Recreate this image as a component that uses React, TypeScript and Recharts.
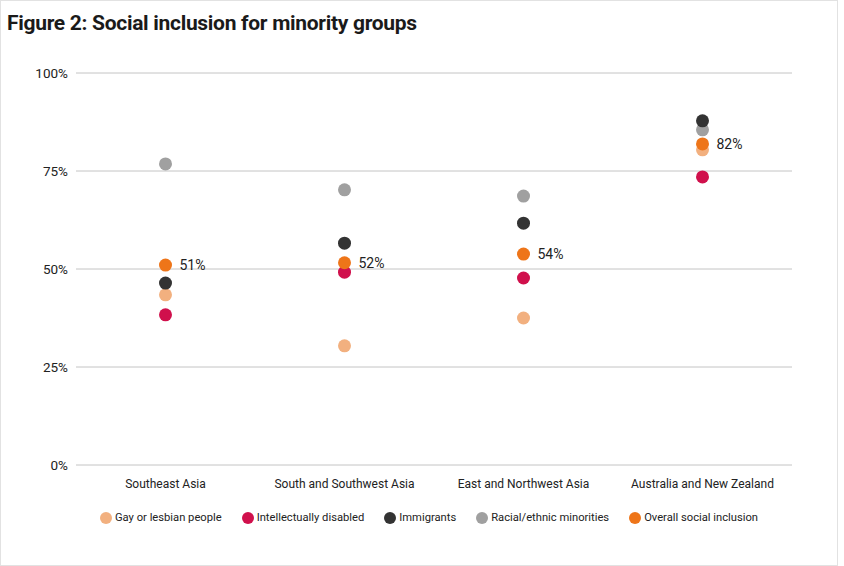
import React from "react";
import { LineChart, Line, XAxis, YAxis, CartesianGrid, LabelList } from "recharts";

const regions = [
  "Southeast Asia",
  "South and Southwest Asia",
  "East and Northwest Asia",
  "Australia and New Zealand",
];
const gayLesbian = [43.4, 30.4, 37.5, 80.4];
const intellectuallyDisabled = [38.3, 49.2, 47.7, 73.5];
const immigrants = [46.4, 56.6, 61.7, 87.8];
const racialEthnic = [76.8, 70.2, 68.6, 85.5];
const overall = [51, 51.6, 53.8, 81.9];
const yTicks = [0, 25, 50, 75, 100];

const series = [
  { key: "gay", name: "Gay or lesbian people", color: "#F2B07F", values: gayLesbian },
  { key: "disabled", name: "Intellectually disabled", color: "#D0104C", values: intellectuallyDisabled },
  { key: "racial", name: "Racial/ethnic minorities", color: "#A0A0A0", values: racialEthnic },
  { key: "immigrants", name: "Immigrants", color: "#333333", values: immigrants },
  { key: "overall", name: "Overall social inclusion", color: "#EE7519", values: overall },
];
const legendOrder = ["gay", "disabled", "immigrants", "racial", "overall"];

const data = regions.map((region, i) => {
  const row: any = { region };
  series.forEach((s) => (row[s.key] = s.values[i]));
  return row;
});

const font = "Roboto, 'Open Sans', sans-serif";

export default function App() {
  return (
    <div
      style={{
        position: "absolute",
        left: 0,
        top: 0,
        width: 844,
        height: 566,
        background: "#fff",
        fontFamily: font,
      }}
    >
      <div
        style={{
          position: "absolute",
          left: 0,
          top: 0,
          width: 836,
          height: 564,
          border: "1px solid #e2e2e2",
        }}
      />
      <div
        style={{
          position: "absolute",
          left: 7,
          top: 11,
          fontSize: 21,
          fontWeight: 700,
          color: "#1a1a1a",
          letterSpacing: -0.3,
          whiteSpace: "nowrap",
        }}
      >
        Figure 2: Social inclusion for minority groups
      </div>
      <div style={{ position: "absolute", left: 0, top: 0 }}>
        <LineChart
          width={844}
          height={566}
          data={data}
          margin={{ top: 73, right: 52, left: 0, bottom: 71 }}
        >
          <CartesianGrid vertical={false} stroke="#c4c4c4" />
          <XAxis
            dataKey="region"
            scale="band"
            axisLine={false}
            tickLine={false}
            tickMargin={8}
            height={30}
            tick={{ fontSize: 12, fill: "#222", fontFamily: font }}
          />
          <YAxis
            width={76}
            domain={[0, 100]}
            ticks={yTicks}
            tickFormatter={(v: number) => `${v}%`}
            axisLine={false}
            tickLine={false}
            tick={{ fontSize: 13.5, fill: "#222", fontFamily: font }}
          />
          {series.map((s) => (
            <Line
              key={s.key}
              dataKey={s.key}
              name={s.name}
              stroke="none"
              isAnimationActive={false}
              dot={{ r: 6.5, fill: s.color, stroke: "none", fillOpacity: 1 }}
              activeDot={false}
            >
              {s.key === "overall" && (
                <LabelList
                  dataKey={s.key}
                  position="right"
                  offset={14}
                  formatter={(v: any) => `${Math.round(v)}%`}
                  style={{ fontSize: 14, fill: "#222", fontFamily: font }}
                />
              )}
            </Line>
          ))}
        </LineChart>
      </div>
      <div
        style={{
          position: "absolute",
          left: 100,
          top: 511,
          display: "flex",
          fontSize: 11.2,
          color: "#222",
          whiteSpace: "nowrap",
        }}
      >
        {legendOrder.map((k) => {
          const s = series.find((x) => x.key === k)!;
          return (
            <div key={k} style={{ display: "flex", alignItems: "center", marginRight: 20 }}>
              <span
                style={{
                  display: "inline-block",
                  width: 12,
                  height: 12,
                  borderRadius: "50%",
                  background: s.color,
                  marginRight: 3,
                }}
              />
              <span>{s.name}</span>
            </div>
          );
        })}
      </div>
    </div>
  );
}
